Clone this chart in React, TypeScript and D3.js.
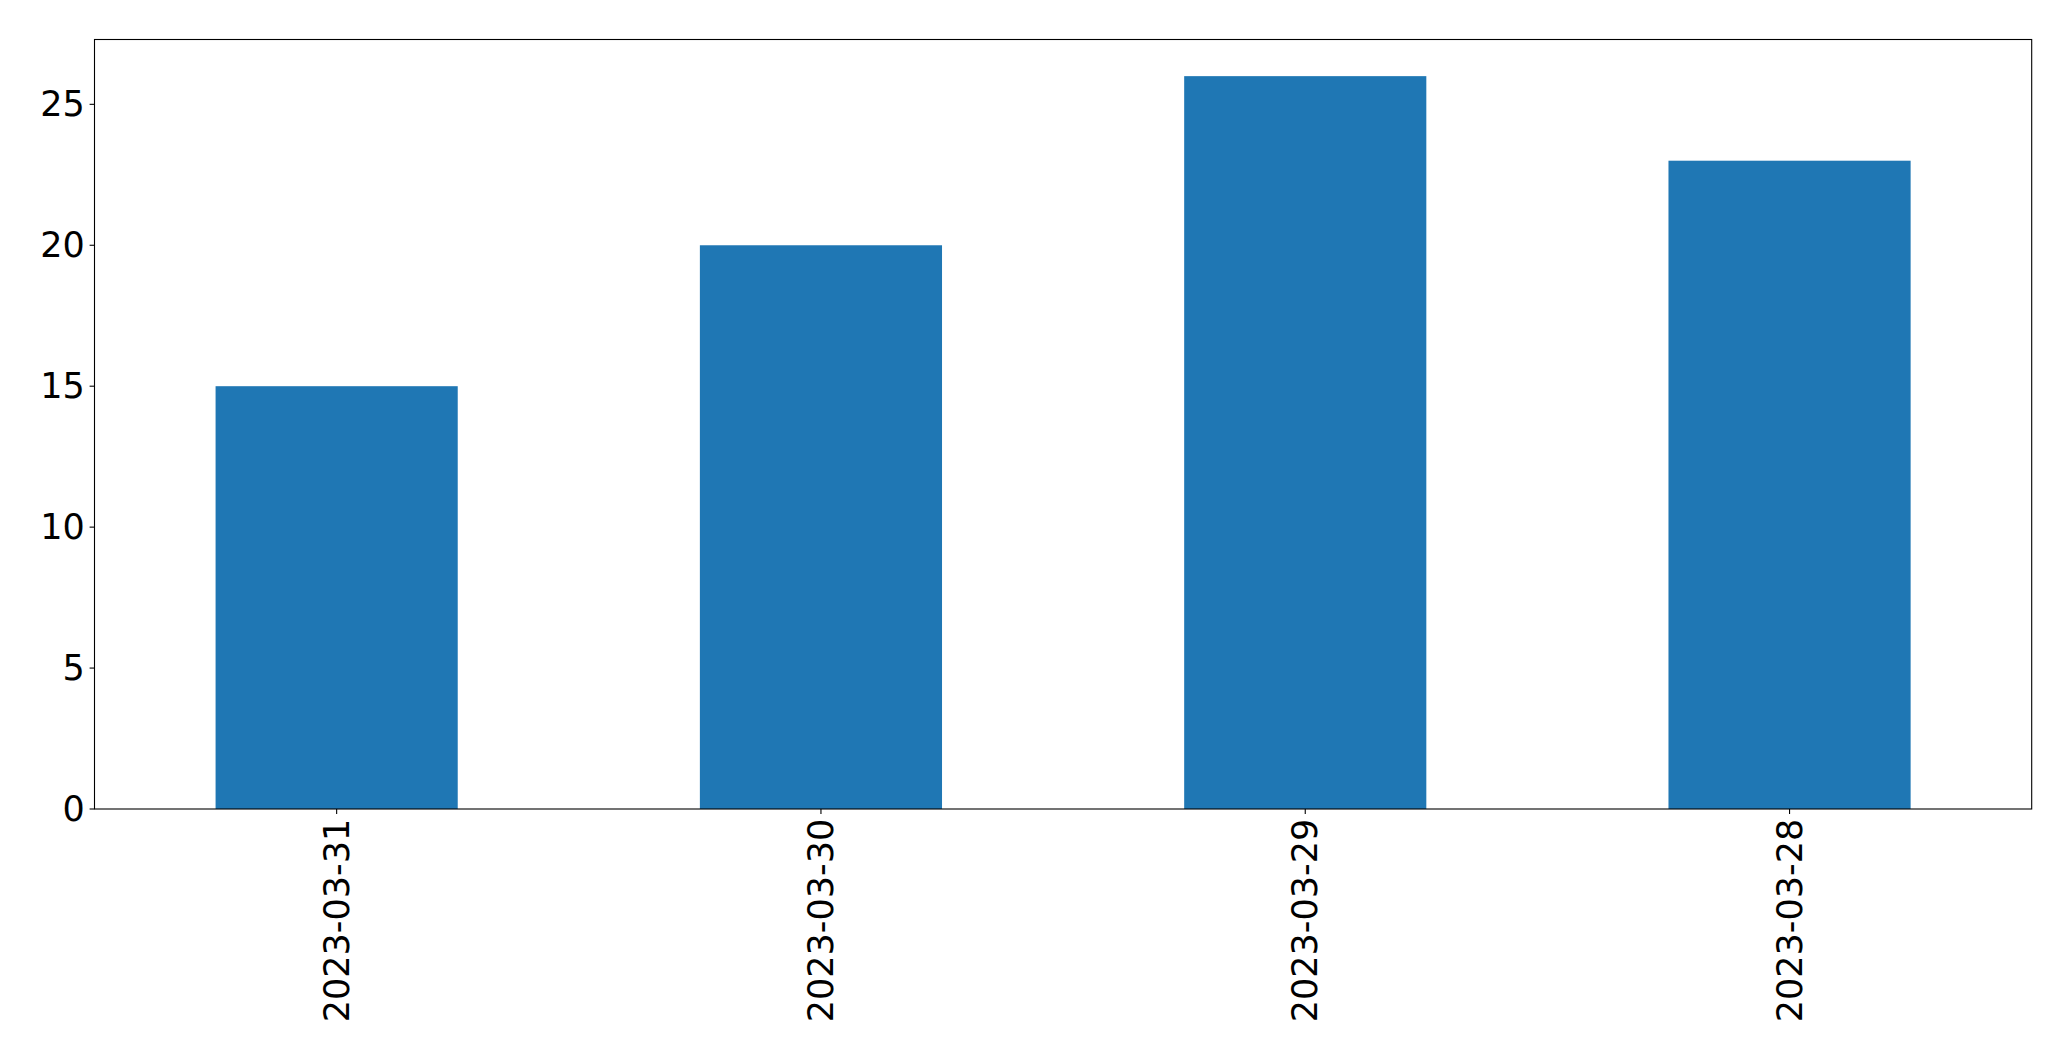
import React from "react";
import * as d3 from "d3";

const categories = ["2023-03-31", "2023-03-30", "2023-03-29", "2023-03-28"];
const values = [15, 20, 26, 23];
const yTicks = [0, 5, 10, 15, 20, 25];

const W = 2071;
const H = 1061;
const M = { left: 94.5, right: 2031.7, top: 39.5, bottom: 809 };
const FONT = "DejaVu Sans, sans-serif";
const FS = 35;
const TICK = 4.9;
const PAD = 4.9;

export default function App() {
  const x = d3
    .scaleLinear()
    .domain([-0.5, categories.length - 0.5])
    .range([M.left, M.right]);
  const yMax = d3.max(values)! * 1.05;
  const y = d3.scaleLinear().domain([0, yMax]).range([M.bottom, M.top]);
  const bw = x(0.25) - x(-0.25);

  return (
    <svg
      width={W}
      height={H}
      style={{ position: "absolute", left: 0, top: 0, background: "#fff" }}
    >
      <rect x={0} y={0} width={W} height={H} fill="#fff" />
      {values.map((v, i) => (
        <rect
          key={i}
          x={x(i) - bw / 2}
          y={y(v)}
          width={bw}
          height={y(0) - y(v)}
          fill="#1f77b4"
        />
      ))}
      <rect
        x={M.left}
        y={M.top}
        width={M.right - M.left}
        height={M.bottom - M.top}
        fill="none"
        stroke="#000"
        strokeWidth={1.1}
      />
      {yTicks.map((t) => (
        <g key={t}>
          <line
            x1={M.left - TICK}
            x2={M.left}
            y1={y(t)}
            y2={y(t)}
            stroke="#000"
            strokeWidth={1.1}
          />
          <text
            x={M.left - TICK - PAD}
            y={y(t)}
            textAnchor="end"
            dominantBaseline="central"
            fontFamily={FONT}
            fontSize={FS}
            fill="#000"
          >
            {t}
          </text>
        </g>
      ))}
      {categories.map((c, i) => (
        <g key={c}>
          <line
            x1={x(i)}
            x2={x(i)}
            y1={M.bottom}
            y2={M.bottom + TICK}
            stroke="#000"
            strokeWidth={1.1}
          />
          <text
            transform={`translate(${x(i)},${M.bottom + TICK + PAD}) rotate(-90)`}
            textAnchor="end"
            dominantBaseline="central"
            fontFamily={FONT}
            fontSize={FS}
            fill="#000"
          >
            {c}
          </text>
        </g>
      ))}
    </svg>
  );
}
